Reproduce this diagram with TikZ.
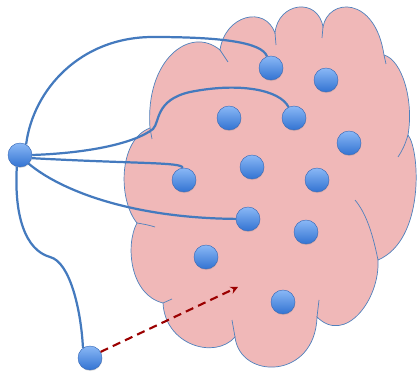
\documentclass[tikz,border=0pt]{standalone}
\usepackage{tikz}
\usetikzlibrary{arrows.meta,shadows}
\definecolor{cloudfill}{RGB}{240,184,184}
\definecolor{cloudline}{RGB}{79,129,189}
\definecolor{linkblue}{RGB}{68,122,190}
\definecolor{balltop}{RGB}{138,184,246}
\definecolor{ballbot}{RGB}{50,115,210}
\definecolor{ballrim}{RGB}{58,108,186}
\definecolor{arrowred}{RGB}{155,0,0}
\tikzset{ball/.style={circle,minimum size=7.2mm,inner sep=0pt,draw=ballrim,line width=0.4pt,top color=balltop,bottom color=ballbot,drop shadow={shadow xshift=0.3pt,shadow yshift=-0.9pt,opacity=0.25}},
 link/.style={draw=linkblue,line width=1.9pt},
 puff/.style={draw=cloudline,line width=0.6pt}}

\begin{document}
\begin{tikzpicture}[x=0.03cm,y=-0.03cm]
 \useasboundingbox (0,0) rectangle (417,372);
 % cloud
 \filldraw[puff,fill=cloudfill] (150,128) .. controls (145,60) and (190,25) .. (220,50) .. controls (225,15) and (265,5) .. (275,33) .. controls (278,2) and (318,-3) .. (323,27) .. controls (328,-2) and (375,-5) .. (384,55)
  .. controls (402,60) and (414,100) .. (408,135) .. controls (420,150) and (425,240) .. (378,260) .. controls (380,300) and (345,345) .. (317,317) .. controls (315,380) and (240,380) .. (235,337)
  .. controls (215,360) and (165,345) .. (163,303) .. controls (130,295) and (125,245) .. (137,223) .. controls (118,200) and (118,140) .. (150,128) -- cycle;
 \draw[puff] (220,50) -- (228,62) (275,33) -- (276,45) (323,27) -- (322,38) (384,55) -- (386,64) (317,317) -- (319,300) (235,337) -- (232,320) (163,303) -- (172,299) (150,128) -- (152,139);
 \draw[puff] (408,135) .. controls (405,145) and (402,151) .. (398,157) (378,260) .. controls (372,230) and (365,212) .. (355,200) (137,223) .. controls (143,224) and (149,225) .. (155,227);
 % balls
 \node[ball] (hub) at (20,155) {};
 \node[ball] (newcomer) at (90,358) {};
 \foreach \n/\x/\y in {1/271/68,2/326/80,3/229/118,4/294/118,5/349/143,6/252/167,7/184/180,8/317/180,9/248/219,10/306/232,11/206/257,12/283/302}
  \node[ball] (p\n) at (\x,\y) {};
 \coordinate (aim) at (238,287);
 % links
 \draw[link] (hub.60) .. controls (33,90) and (80,37) .. (153,37) .. controls (220,37) and (262,42) .. (p1);
 \draw[link] (hub.east) .. controls (90,153) and (135,143) .. (153,129) .. controls (160,122) and (155,100) .. (190,92) .. controls (240,82) and (280,90) .. (p4);
 \draw[link] (hub.-15) .. controls (140,164) and (182,162) .. (p7);
 \draw[link] (hub.-45) .. controls (60,190) and (130,218) .. (p9);
 \draw[link] (hub.-105) .. controls (14,215) and (25,250) .. (50,257) .. controls (70,262) and (81,310) .. (newcomer.125);
 \draw[arrowred,line width=1.8pt,dash pattern=on 7pt off 4.5pt,-{Stealth[length=6.5pt,width=6.5pt]}] (newcomer.30) -- (aim);
\end{tikzpicture}
\end{document}
